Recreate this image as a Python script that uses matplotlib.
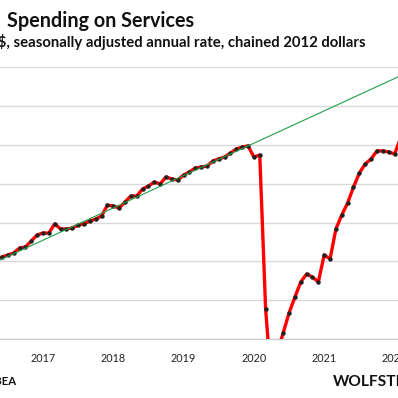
import matplotlib
matplotlib.use("Agg")
import matplotlib.pyplot as plt
import numpy as np
import pandas as pd

# ---- data (billions of chained 2012 dollars, SAAR) ----
start_month = "2016-05"
services = [
    8410, 8423, 8433, 8443, 8469, 8474, 8505, 8536,                     # 2016 May-Dec
    8546, 8546, 8593, 8567, 8567, 8572, 8587, 8593, 8608, 8618, 8634, 8690,  # 2017
    8685, 8675, 8706, 8737, 8737, 8773, 8788, 8809, 8799, 8835, 8824, 8819,  # 2018
    8845, 8861, 8881, 8886, 8891, 8917, 8928, 8938, 8958, 8979, 8989, 8995,  # 2019
    8938, 8948, 8155, 7763, 7933, 8031, 8134, 8216, 8294, 8335, 8319, 8294,  # 2020
    8433, 8412, 8567, 8639, 8701, 8783, 8855, 8902, 8928, 8969, 8969, 8964,  # 2021
    8953, 9031,                                                           # 2022 Jan-Feb
]
trend_months = ["2016-05", "2022-02"]
trend_values = [8398, 9356]
year_ticks = [2017, 2018, 2019, 2020, 2021, 2022]
y_grid = [8000, 8200, 8400, 8600, 8800, 9000, 9200, 9400]

months = pd.date_range(start_month, periods=len(services), freq="MS")
t = months.year + (months.month - 1) / 12.0
tm = pd.to_datetime(trend_months)
tt = tm.year + (tm.month - 1) / 12.0

W = H = 398
fig = plt.figure(figsize=(W / 100, H / 100), dpi=100)
fig.patch.set_facecolor("white")

def fx(px):
    return px / W

def fy(py):
    return 1 - py / H

ax = fig.add_axes([0, fy(339), 1, fy(67.3) - fy(339)])
ax.set_xlim(2017 - 43 / 70.3, 2017 + 355 / 70.3)
ax.set_ylim(y_grid[0], y_grid[-1])

for v in y_grid:
    ax.axhline(v, color="#d9d9d9", lw=1.0, zorder=0)

ax.plot(t, services, color="#ff0000", lw=2.4, solid_joinstyle="round",
        marker="o", markersize=2.2, markerfacecolor="#222222",
        markeredgecolor="#222222", zorder=3, clip_on=True)
ax.plot(tt, trend_values, color="#1f9e4a", lw=0.8, zorder=4)

for s in ["top", "right", "left"]:
    ax.spines[s].set_visible(False)
ax.spines["bottom"].set_color("#d0d0d0")
ax.spines["bottom"].set_linewidth(1.0)
ax.set_yticks([])
ax.set_xticks(year_ticks)
ax.set_xticklabels([str(y) for y in year_ticks], fontsize=7.8, family="Lato", color="#222222")
ax.tick_params(axis="x", length=0, pad=10)

fig.text(fx(7), fy(27), "Spending on Services", ha="left", va="baseline",
         fontsize=14.2, fontweight="bold", family="Lato", color="#111111")
fig.text(fx(366), fy(46.5), "Billion $, seasonally adjusted annual rate, chained 2012 dollars",
         ha="right", va="baseline", fontsize=10.7, fontweight="bold", family="Lato", color="#111111")
fig.text(fx(16), fy(385), "Data: BEA", ha="right", va="baseline",
         fontsize=8.2, fontweight="bold", family="Lato", color="#111111")
fig.text(fx(333), fy(385.5), "WOLFSTREET.com", ha="left", va="baseline",
         fontsize=11.2, fontweight="bold", family="Lato", color="#111111")

fig.savefig("out.png", dpi=100, facecolor="white")
